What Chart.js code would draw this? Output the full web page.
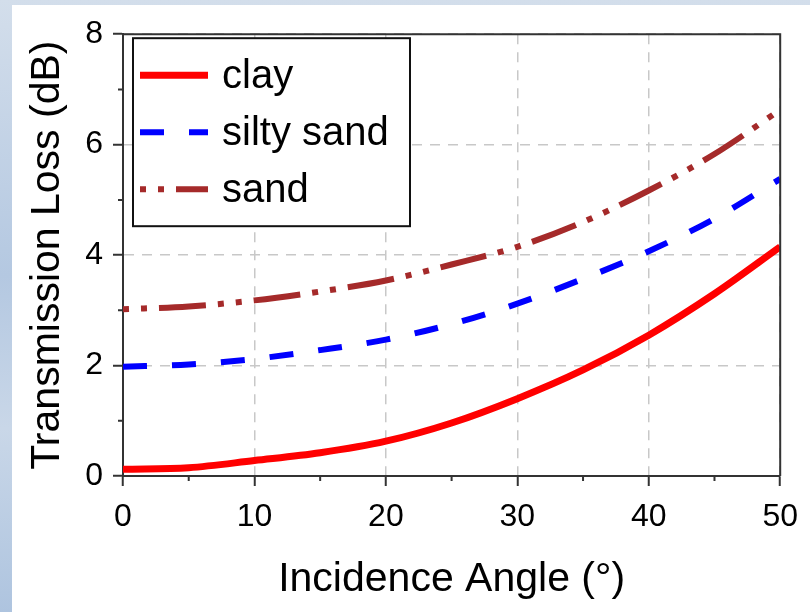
<!DOCTYPE html>
<html>
<head>
<meta charset="utf-8">
<script src="https://cdn.jsdelivr.net/npm/chart.js@4/dist/chart.umd.min.js"></script>
<style>
  html, body { margin: 0; padding: 0; }
  body {
    width: 810px; height: 612px; overflow: hidden; position: relative;
    background: linear-gradient(180deg, #d3deeb 0%, #b4c8e1 45%, #c9d7e8 70%, #aec4df 100%);
  }
  #wrap { position: absolute; left: 12px; top: 5px; width: 798px; height: 607px; background: #fff; }
  canvas { display: block; }
</style>
</head>
<body>
<div id="wrap"><canvas id="lossChart" width="798" height="607"></canvas></div>
<script>
// values
const angles = [0, 5, 10, 15, 20, 25, 30, 35, 40, 45, 50];
const clay = [0.12, 0.15, 0.28, 0.42, 0.63, 0.96, 1.40, 1.92, 2.55, 3.30, 4.15];
const siltySand = [1.98, 2.02, 2.12, 2.28, 2.47, 2.75, 3.12, 3.57, 4.07, 4.66, 5.38];
const sand = [3.02, 3.07, 3.18, 3.34, 3.54, 3.83, 4.15, 4.60, 5.17, 5.83, 6.63];
const xTicks = [0, 10, 20, 30, 40, 50];
const yTicks = [0, 2, 4, 6, 8];
const xMinor = [5, 15, 25, 35, 45];
const yMinor = [1, 3, 5, 7];

const FONT = "'Liberation Sans', Arial, sans-serif";
const AXIS = "#333333";

function points(ys) {
    return angles.map((a, i) => ({ x: a, y: ys[i] }));
}

// top/right frame plus short minor ticks
const framePlugin = {
    id: "frame",
    afterDraw(chart) {
        const { ctx, chartArea: a, scales } = chart;
        ctx.save();
        ctx.strokeStyle = AXIS;
        ctx.lineWidth = 2;
        ctx.beginPath();
        ctx.moveTo(a.left, a.top);
        ctx.lineTo(a.right, a.top);
        ctx.lineTo(a.right, a.bottom);
        xMinor.forEach(v => {
            const px = scales.x.getPixelForValue(v);
            ctx.moveTo(px, a.bottom);
            ctx.lineTo(px, a.bottom + 5);
        });
        yMinor.forEach(v => {
            const py = scales.y.getPixelForValue(v);
            ctx.moveTo(a.left - 5, py);
            ctx.lineTo(a.left, py);
        });
        ctx.stroke();
        ctx.restore();
    }
};

// boxed legend in the upper-left corner of the plot
const legendBox = {
    id: "legendBox",
    afterDatasetsDraw(chart) {
        const { ctx, chartArea: a } = chart;
        const bx = a.left + 10, by = a.top + 4, bw = 277, bh = 188;
        ctx.save();
        ctx.fillStyle = "#ffffff";
        ctx.fillRect(bx, by, bw, bh);
        ctx.strokeStyle = "#111";
        ctx.lineWidth = 2;
        ctx.strokeRect(bx, by, bw, bh);
        chart.data.datasets.forEach((ds, i) => {
            const y = by + 37 + i * 57;
            ctx.beginPath();
            ctx.strokeStyle = ds.borderColor;
            ctx.lineWidth = ds.borderWidth;
            ctx.lineCap = "butt";
            ctx.setLineDash(ds.borderDash || []);
            ctx.moveTo(bx + 7, y);
            ctx.lineTo(bx + 75, y);
            ctx.stroke();
            ctx.setLineDash([]);
            ctx.fillStyle = "#000";
            ctx.font = "40px " + FONT;
            ctx.textBaseline = "middle";
            ctx.fillText(ds.label, bx + 89, y + 2);
        });
        ctx.restore();
    }
};

new Chart(document.getElementById("lossChart").getContext("2d"), {
    type: "line",
    data: {
        datasets: [
            { label: "clay", data: points(clay), borderColor: "#ff0000", borderWidth: 7 },
            { label: "silty sand", data: points(siltySand), borderColor: "#0000ff", borderWidth: 6, borderDash: [24, 25] },
            { label: "sand", data: points(sand), borderColor: "#a52a2a", borderWidth: 6, borderDash: [6, 12, 6, 12, 47, 12] }
        ]
    },
    options: {
        responsive: false,
        animation: false,
        layout: { padding: { top: 23, right: 20, left: 0, bottom: 0 } },
        elements: {
            point: { radius: 0 },
            line: { cubicInterpolationMode: "monotone", fill: false }
        },
        plugins: { legend: { display: false }, tooltip: { enabled: false } },
        scales: {
            x: {
                type: "linear", min: 0, max: 50,
                afterFit(s) { s.height = 136; },
                afterBuildTicks(s) { s.ticks = xTicks.map(v => ({ value: v })); },
                ticks: { color: "#000", font: { family: FONT, size: 32 }, padding: 12, maxRotation: 0 },
                grid: { color: "#c8c8c8", lineWidth: 1.5, tickColor: AXIS, tickWidth: 2, tickLength: 10 },
                border: { color: AXIS, width: 2, dash: [10, 8] },
                title: { display: true, text: "Incidence Angle (°)", color: "#000", font: { family: FONT, size: 41 }, padding: { bottom: 8 } }
            },
            y: {
                min: 0, max: 8,
                afterFit(s) { s.width = 111; },
                afterBuildTicks(s) { s.ticks = yTicks.map(v => ({ value: v })); },
                ticks: { color: "#000", font: { family: FONT, size: 32 }, padding: 10 },
                grid: { color: "#c8c8c8", lineWidth: 1.5, tickColor: AXIS, tickWidth: 2, tickLength: 10 },
                border: { color: AXIS, width: 2, dash: [10, 8] },
                title: { display: true, text: "Transmission Loss (dB)", color: "#000", font: { family: FONT, size: 41 }, padding: { top: 11 } }
            }
        }
    },
    plugins: [framePlugin, legendBox]
});
</script>
</body>
</html>
